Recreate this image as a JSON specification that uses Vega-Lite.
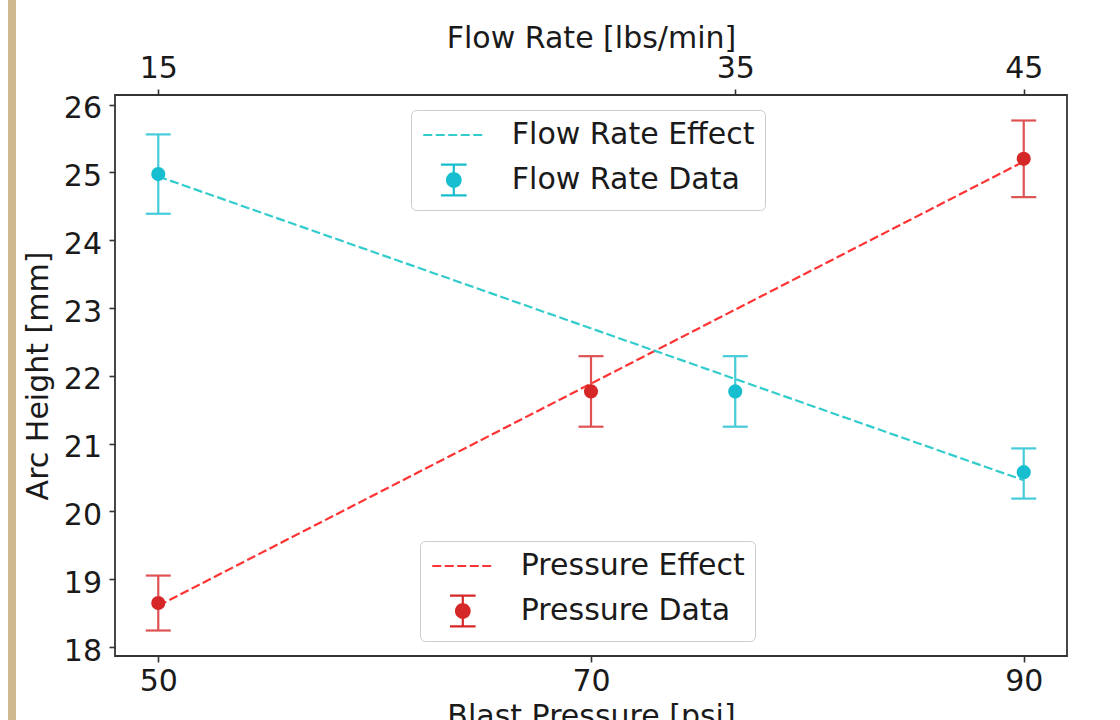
{
  "$schema": "https://vega.github.io/schema/vega-lite/v6.json",
  "background": "white",
  "padding": {"left": 8, "top": 0, "right": 10, "bottom": 0},
  "bounds": "flush",
  "center": true,
  "spacing": 99,
  "config": {
    "font": "DejaVu Sans",
    "view": {"stroke": "#333333", "strokeWidth": 1.8},
    "axis": {
      "labelFont": "DejaVu Sans", "titleFont": "DejaVu Sans",
      "labelFontSize": 30, "titleFontSize": 30, "titleFontWeight": "normal",
      "labelColor": "#1a1a1a", "titleColor": "#1a1a1a",
      "tickColor": "#333333", "tickWidth": 1.6, "tickSize": 6,
      "domain": false, "grid": false, "labelFlush": false, "labelOverlap": false
    }
  },
  "datasets": {
    "pdat": [
      {"pressure": 50, "arc": 18.65, "lo": 18.245, "hi": 19.055, "series": "Pressure Data"},
      {"pressure": 70, "arc": 21.77, "lo": 21.25, "hi": 22.29, "series": "Pressure Data"},
      {"pressure": 90, "arc": 25.2, "lo": 24.635, "hi": 25.765, "series": "Pressure Data"}
    ],
    "pfit": [
      {"pressure": 50, "arc": 18.61, "series": "Pressure Effect"},
      {"pressure": 90, "arc": 25.16, "series": "Pressure Effect"}
    ],
    "fdat": [
      {"flow": 15, "arc": 24.975, "lo": 24.39, "hi": 25.56, "series": "Flow Rate Data"},
      {"flow": 35, "arc": 21.77, "lo": 21.25, "hi": 22.29, "series": "Flow Rate Data"},
      {"flow": 45, "arc": 20.58, "lo": 20.19, "hi": 20.93, "series": "Flow Rate Data"}
    ],
    "ffit": [
      {"flow": 15, "arc": 24.94, "series": "Flow Rate Effect"},
      {"flow": 45, "arc": 20.46, "series": "Flow Rate Effect"}
    ],
    "strip": [{"k": 1}]
  },
  "hconcat": [
    {
      "width": 8, "height": 751,
      "data": {"name": "strip"},
      "view": {"fill": "#CFB991", "stroke": null},
      "mark": {"type": "point", "opacity": 0}
    },
    {
      "width": 952, "height": 561,
      "resolve": {"scale": {"x": "independent", "color": "independent"}},
      "layer": [
        {
          "encoding": {
            "x": {"field": "pressure", "type": "quantitative", "title": "Blast Pressure [psi]",
              "scale": {"domain": [48, 92], "nice": false, "zero": false},
              "axis": {"orient": "bottom", "values": [50, 70, 90], "labelPadding": 4, "titlePadding": 5}}
          },
          "layer": [
            {
              "data": {"name": "pfit"},
              "mark": {"type": "line", "strokeDash": [9, 3.5], "strokeWidth": 2.2},
              "encoding": {
                "y": {"field": "arc", "type": "quantitative", "title": "Arc Height [mm]",
                  "scale": {"domain": [17.869, 26.141], "nice": false, "zero": false},
                  "axis": {"values": [18, 19, 20, 21, 22, 23, 24, 25, 26], "format": "d", "labelOffset": 4, "labelPadding": 7.5, "titlePadding": 10}},
                "color": {"field": "series", "type": "nominal",
                  "scale": {"domain": ["Pressure Effect", "Pressure Data"], "range": ["#ff3333", "#d62728"]},
                  "legend": {"title": null, "orient": "none", "legendX": 305, "legendY": 446, "direction": "vertical",
                    "padding": 10, "rowPadding": 10, "symbolSize": 676, "symbolStrokeWidth": 2.2,
                    "symbolOffset": 17.8, "labelOffset": 43, "labelFontSize": 30, "labelFont": "DejaVu Sans",
                    "labelColor": "#1a1a1a", "labelLimit": 0, "labelExpr": "datum.label + '   '",
                    "fillColor": "#ffffff", "strokeColor": "#cccccc", "cornerRadius": 5,
                    "encode": {"symbols": {"update": {
                      "shape": {"signal": "datum.value === 'Pressure Data' ? 'M0,-1.18V-0.52M0,0.52V1.18M-0.985,-1.18H0.985M-0.985,1.18H0.985M-0.52,0A0.52,0.52,0,1,0,0.52,0A0.52,0.52,0,1,0,-0.52,0Z' : 'M-2.35,0H2.35'"},
                      "strokeDash": {"signal": "datum.value === 'Pressure Data' ? [1, 0] : [9, 3.5]"},
                      "fill": {"signal": "datum.value === 'Pressure Data' ? '#d62728' : 'transparent'"},
                      "stroke": {"signal": "datum.value === 'Pressure Data' ? '#de5253' : '#ff3333'"},
                      "strokeWidth": {"value": 2.2},
                      "size": {"value": 676},
                      "opacity": {"value": 1}
                    }}}}
                }
              }
            },
            {
              "data": {"name": "pdat"},
              "mark": {"type": "rule", "color": "#de5253", "strokeWidth": 2.2},
              "encoding": {
                "y": {"field": "lo", "type": "quantitative", "title": "Arc Height [mm]",
                  "scale": {"domain": [17.869, 26.141], "nice": false, "zero": false}},
                "y2": {"field": "hi"}
              }
            },
            {
              "data": {"name": "pdat"},
              "mark": {"type": "tick", "orient": "horizontal", "color": "#de5253", "size": 25, "thickness": 2.2, "opacity": 1},
              "encoding": {
                "y": {"field": "lo", "type": "quantitative", "title": "Arc Height [mm]",
                  "scale": {"domain": [17.869, 26.141], "nice": false, "zero": false}}
              }
            },
            {
              "data": {"name": "pdat"},
              "mark": {"type": "tick", "orient": "horizontal", "color": "#de5253", "size": 25, "thickness": 2.2, "opacity": 1},
              "encoding": {
                "y": {"field": "hi", "type": "quantitative", "title": "Arc Height [mm]",
                  "scale": {"domain": [17.869, 26.141], "nice": false, "zero": false}}
              }
            },
            {
              "data": {"name": "pdat"},
              "mark": {"type": "point", "filled": true, "opacity": 1, "size": 200},
              "encoding": {
                "y": {"field": "arc", "type": "quantitative", "title": "Arc Height [mm]",
                  "scale": {"domain": [17.869, 26.141], "nice": false, "zero": false}},
                "color": {"field": "series", "type": "nominal",
                  "scale": {"domain": ["Pressure Effect", "Pressure Data"], "range": ["#ff3333", "#d62728"]},
                  "legend": {"title": null, "orient": "none", "legendX": 305, "legendY": 446, "direction": "vertical",
                    "padding": 10, "rowPadding": 10, "symbolSize": 676, "symbolStrokeWidth": 2.2,
                    "symbolOffset": 17.8, "labelOffset": 43, "labelFontSize": 30, "labelFont": "DejaVu Sans",
                    "labelColor": "#1a1a1a", "labelLimit": 0, "labelExpr": "datum.label + '   '",
                    "fillColor": "#ffffff", "strokeColor": "#cccccc", "cornerRadius": 5,
                    "encode": {"symbols": {"update": {
                      "shape": {"signal": "datum.value === 'Pressure Data' ? 'M0,-1.18V-0.52M0,0.52V1.18M-0.985,-1.18H0.985M-0.985,1.18H0.985M-0.52,0A0.52,0.52,0,1,0,0.52,0A0.52,0.52,0,1,0,-0.52,0Z' : 'M-2.35,0H2.35'"},
                      "strokeDash": {"signal": "datum.value === 'Pressure Data' ? [1, 0] : [9, 3.5]"},
                      "fill": {"signal": "datum.value === 'Pressure Data' ? '#d62728' : 'transparent'"},
                      "stroke": {"signal": "datum.value === 'Pressure Data' ? '#de5253' : '#ff3333'"},
                      "strokeWidth": {"value": 2.2},
                      "size": {"value": 676},
                      "opacity": {"value": 1}
                    }}}}
                }
              }
            }
          ]
        },
        {
          "encoding": {
            "x": {"field": "flow", "type": "quantitative", "title": "Flow Rate [lbs/min]",
              "scale": {"domain": [13.5, 46.5], "nice": false, "zero": false},
              "axis": {"orient": "top", "values": [15, 35, 45], "labelPadding": 6, "titlePadding": 0}}
          },
          "layer": [
            {
              "data": {"name": "ffit"},
              "mark": {"type": "line", "strokeDash": [9, 3.5], "strokeWidth": 2.2},
              "encoding": {
                "y": {"field": "arc", "type": "quantitative", "title": "Arc Height [mm]",
                  "scale": {"domain": [17.869, 26.141], "nice": false, "zero": false}},
                "color": {"field": "series", "type": "nominal",
                  "scale": {"domain": ["Flow Rate Effect", "Flow Rate Data"], "range": ["#33cccc", "#17becf"]},
                  "legend": {"title": null, "orient": "none", "legendX": 296, "legendY": 15, "direction": "vertical",
                    "padding": 10, "rowPadding": 10, "symbolSize": 676, "symbolStrokeWidth": 2.2,
                    "symbolOffset": 17.8, "labelOffset": 43, "labelFontSize": 30, "labelFont": "DejaVu Sans",
                    "labelColor": "#1a1a1a", "labelLimit": 0, "labelExpr": "datum.label + '   '",
                    "fillColor": "#ffffff", "strokeColor": "#cccccc", "cornerRadius": 5,
                    "encode": {"symbols": {"update": {
                      "shape": {"signal": "datum.value === 'Flow Rate Data' ? 'M0,-1.18V-0.52M0,0.52V1.18M-0.985,-1.18H0.985M-0.985,1.18H0.985M-0.52,0A0.52,0.52,0,1,0,0.52,0A0.52,0.52,0,1,0,-0.52,0Z' : 'M-2.35,0H2.35'"},
                      "strokeDash": {"signal": "datum.value === 'Flow Rate Data' ? [1, 0] : [9, 3.5]"},
                      "fill": {"signal": "datum.value === 'Flow Rate Data' ? '#17becf' : 'transparent'"},
                      "stroke": {"signal": "datum.value === 'Flow Rate Data' ? '#45cbd9' : '#33cccc'"},
                      "strokeWidth": {"value": 2.2},
                      "size": {"value": 676},
                      "opacity": {"value": 1}
                    }}}}
                }
              }
            },
            {
              "data": {"name": "fdat"},
              "mark": {"type": "rule", "color": "#45cbd9", "strokeWidth": 2.2},
              "encoding": {
                "y": {"field": "lo", "type": "quantitative", "title": "Arc Height [mm]",
                  "scale": {"domain": [17.869, 26.141], "nice": false, "zero": false}},
                "y2": {"field": "hi"}
              }
            },
            {
              "data": {"name": "fdat"},
              "mark": {"type": "tick", "orient": "horizontal", "color": "#45cbd9", "size": 25, "thickness": 2.2, "opacity": 1},
              "encoding": {
                "y": {"field": "lo", "type": "quantitative", "title": "Arc Height [mm]",
                  "scale": {"domain": [17.869, 26.141], "nice": false, "zero": false}}
              }
            },
            {
              "data": {"name": "fdat"},
              "mark": {"type": "tick", "orient": "horizontal", "color": "#45cbd9", "size": 25, "thickness": 2.2, "opacity": 1},
              "encoding": {
                "y": {"field": "hi", "type": "quantitative", "title": "Arc Height [mm]",
                  "scale": {"domain": [17.869, 26.141], "nice": false, "zero": false}}
              }
            },
            {
              "data": {"name": "fdat"},
              "mark": {"type": "point", "filled": true, "opacity": 1, "size": 200},
              "encoding": {
                "y": {"field": "arc", "type": "quantitative", "title": "Arc Height [mm]",
                  "scale": {"domain": [17.869, 26.141], "nice": false, "zero": false}},
                "color": {"field": "series", "type": "nominal",
                  "scale": {"domain": ["Flow Rate Effect", "Flow Rate Data"], "range": ["#33cccc", "#17becf"]},
                  "legend": {"title": null, "orient": "none", "legendX": 296, "legendY": 15, "direction": "vertical",
                    "padding": 10, "rowPadding": 10, "symbolSize": 676, "symbolStrokeWidth": 2.2,
                    "symbolOffset": 17.8, "labelOffset": 43, "labelFontSize": 30, "labelFont": "DejaVu Sans",
                    "labelColor": "#1a1a1a", "labelLimit": 0, "labelExpr": "datum.label + '   '",
                    "fillColor": "#ffffff", "strokeColor": "#cccccc", "cornerRadius": 5,
                    "encode": {"symbols": {"update": {
                      "shape": {"signal": "datum.value === 'Flow Rate Data' ? 'M0,-1.18V-0.52M0,0.52V1.18M-0.985,-1.18H0.985M-0.985,1.18H0.985M-0.52,0A0.52,0.52,0,1,0,0.52,0A0.52,0.52,0,1,0,-0.52,0Z' : 'M-2.35,0H2.35'"},
                      "strokeDash": {"signal": "datum.value === 'Flow Rate Data' ? [1, 0] : [9, 3.5]"},
                      "fill": {"signal": "datum.value === 'Flow Rate Data' ? '#17becf' : 'transparent'"},
                      "stroke": {"signal": "datum.value === 'Flow Rate Data' ? '#45cbd9' : '#33cccc'"},
                      "strokeWidth": {"value": 2.2},
                      "size": {"value": 676},
                      "opacity": {"value": 1}
                    }}}}
                }
              }
            }
          ]
        }
      ]
    }
  ]
}
